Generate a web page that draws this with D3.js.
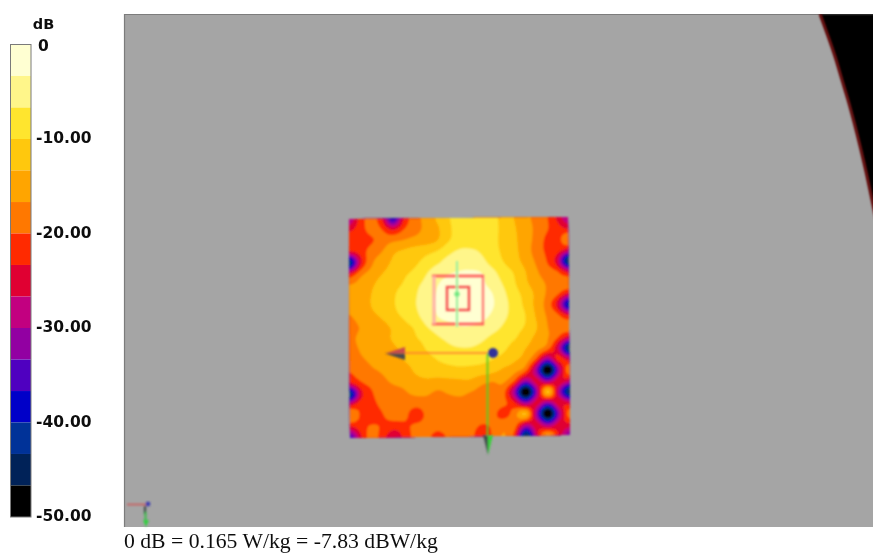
<!DOCTYPE html>
<html><head><meta charset="utf-8">
<style>html,body{margin:0;padding:0;background:#fff;overflow:hidden}svg{display:block}</style>
<script src="https://cdn.jsdelivr.net/npm/d3@7"></script></head><body>
<svg id="c" width="873" height="553"></svg>
<script>
const bandColors=["#ffffd2","#fff68a","#ffe52e","#ffc80e","#ffa500","#ff7800","#ff2a00","#e00030","#c20080","#9200a2","#5000c0","#0000c8","#003098","#002058","#000000"];
const bandEdges=[0,-3.33,-6.67,-10,-13.33,-16.67,-20,-23.33,-26.67,-30,-33.33,-36.67,-40,-43.33,-46.67,-50];
const tickValues=[0,-10,-20,-30,-40,-50];
const legendTitle="dB";
const caption="0 dB = 0.165 W/kg = -7.83 dBW/kg";
const phantomEdgeX=[820,828,835.5,842,848,854.5,860.5,866.5,872,877.5];
const phantomEdgeY=[14,36,58,80,100,124,148,174,200,226];
const sar=[
[-30,-22,-19,-23,-38,-23,-18.5,-15.5,-13,-10.6,-8,-7.5,-7.5,-8.6,-11,-13.2,-15.5,-17.5,-19.5,-24,-30],
[-24,-21.5,-19,-20,-24,-20,-18,-15.8,-14,-11,-8.5,-7.8,-7.6,-8.6,-10.8,-12.8,-15,-17.2,-19.5,-22,-24],
[-22,-22,-20.5,-18.5,-17.3,-16.5,-15.5,-14.8,-13.6,-10.5,-8.5,-7.5,-7.4,-8.8,-10.8,-12.6,-14.8,-17.5,-20.5,-21.5,-16.5],
[-24,-22,-18.5,-16.7,-14,-12.8,-11.8,-11,-10,-7.8,-6.4,-6.4,-7,-8.8,-10.5,-12.5,-14.6,-18,-20.5,-21.5,-25],
[-44,-25,-17.5,-15,-12.8,-11.5,-10.6,-9,-7.4,-5.5,-4.8,-4.6,-5.5,-8,-9.9,-12,-14.2,-17,-20,-26,-46],
[-24,-18,-15.5,-13.4,-12,-10.5,-9.3,-7,-4.8,-3.7,-3.1,-3,-3.3,-5.6,-8.2,-10.2,-13,-16,-18.5,-20,-25],
[-16.7,-15.5,-13.9,-12,-10.8,-9.7,-7.6,-5.8,-3.6,-2.5,-2,-2,-2.8,-4.4,-6.9,-9.5,-12.5,-15,-17,-18.5,-17.5],
[-15.5,-14.5,-13.3,-11.5,-10.3,-8.8,-7,-5,-3,-2,-1.5,-1.5,-2.2,-3.2,-5.8,-8.7,-11,-14,-17,-19.5,-24],
[-15.8,-14.8,-13.3,-11.7,-10.3,-8.6,-6.9,-4.6,-2.9,-1.8,-1.2,-1.3,-2,-3,-5.2,-8.2,-10.6,-14.2,-18,-25,-42],
[-17,-15.6,-14.2,-13,-11,-9.6,-7.7,-5.3,-3.4,-2.5,-2,-2,-2.5,-3.8,-5.8,-8,-9.9,-13.6,-17,-19.5,-24],
[-18,-16.5,-15.4,-14.5,-12.8,-11,-9.6,-7,-5.3,-4.3,-3.6,-3.6,-4.2,-5.3,-7,-8.8,-10.2,-13,-16.5,-18.5,-18],
[-17.8,-15.7,-14.8,-14.2,-13,-11.5,-10.3,-9,-7.2,-6,-5,-5,-6,-7.3,-8.5,-9.6,-11.7,-14,-16.3,-20,-25],
[-18.5,-16.4,-15.6,-15,-14,-12.5,-11.5,-9.9,-8.7,-7.5,-7,-7,-7.6,-8.4,-9.4,-11.4,-13.2,-15.5,-18.5,-27,-46],
[-19,-17.3,-16.3,-15.8,-15,-13.3,-12.3,-11.2,-10,-9.2,-8.8,-8.8,-9.2,-10,-11.2,-12.8,-14.8,-20.5,-31,-22,-26],
[-20,-18.5,-17.2,-16.5,-15.9,-14.8,-13,-12.4,-11.8,-11.3,-11,-11.2,-11.6,-12.4,-14,-15.5,-19,-31,-52,-31,-17],
[-24,-20.5,-19,-17.2,-16.5,-16,-14.5,-13.9,-14.5,-14.3,-14,-14,-15.8,-16.6,-16.2,-20.5,-31,-25,-31,-24,-26],
[-44,-25,-20.5,-18,-17.5,-17,-16.2,-16.2,-17.3,-16.4,-16,-16.8,-17.8,-18,-19,-31,-52,-31,-12,-29,-46],
[-24,-21,-21,-19,-18,-17.8,-18.6,-18,-18.3,-18.2,-17.8,-18,-18.2,-18.2,-19.2,-23,-31,-25,-31,-24,-26],
[-16.5,-20.5,-22,-20.2,-18.5,-18.8,-23,-19,-18.2,-18,-18,-18.2,-18.4,-19,-21.5,-18,-13,-31,-52,-31,-18],
[-24,-21.5,-19.5,-20.5,-22,-21,-19,-18.5,-19,-18.5,-18.3,-18.8,-20.2,-19.5,-17.5,-18.5,-28,-25,-31,-25,-24],
[-37,-24,-18.5,-22,-26,-22,-19,-19.5,-21,-19.5,-18.5,-19,-22.5,-19.5,-16.5,-22,-46,-25,-15,-24,-33]
];

const svg=d3.select("#c");
const defs=svg.append("defs");
defs.append("filter").attr("id","soft").attr("x","-5%").attr("y","-5%").attr("width","110%").attr("height","110%")
  .append("feGaussianBlur").attr("stdDeviation",0.9);
defs.append("filter").attr("id","softText").attr("x","-5%").attr("y","-20%").attr("width","110%").attr("height","140%")
  .append("feGaussianBlur").attr("stdDeviation",0.5);
defs.append("clipPath").attr("id","plotClip").append("rect").attr("x",124).attr("y",14).attr("width",749).attr("height",513);

// plot background
svg.append("rect").attr("x",124).attr("y",14).attr("width",749).attr("height",513).attr("fill","#a5a5a5");
svg.append("path").attr("d","M124.5,527V14.5H873").attr("fill","none").attr("stroke","#7c7c7c").attr("stroke-width",1.2);

// phantom edge at the upper right
const edge=d3.range(phantomEdgeX.length).map(i=>[phantomEdgeX[i],phantomEdgeY[i]]);
const edgeLine=d3.line().curve(d3.curveCatmullRom);
const gPlot=svg.append("g").attr("clip-path","url(#plotClip)");
gPlot.append("path").attr("d",edgeLine(edge)+"L900,226L900,14Z").attr("fill","#000").attr("filter","url(#soft)");
gPlot.append("path").attr("d",edgeLine(edge)).attr("fill","none").attr("stroke","#6a0000").attr("stroke-width",2.6).attr("filter","url(#soft)");

// SAR field: values read on the lattice, smoothed only for drawing
const n=sar.length,k=4,N=(n-1)*k+1;
function cr(a,b,c,d,t){return 0.5*(2*b+(c-a)*t+(2*a-5*b+4*c-d)*t*t+(3*b-a-3*c+d)*t*t*t);}
const at=(r,c)=>sar[Math.max(0,Math.min(n-1,r))][Math.max(0,Math.min(n-1,c))];
const field=new Array(N*N);
for(let j=0;j<N;j++)for(let i=0;i<N;i++){
  const r=Math.min(n-2,Math.floor(j/k)),c=Math.min(n-2,Math.floor(i/k)),v=j/k-r,u=i/k-c;
  const row=[-1,0,1,2].map(dr=>cr(at(r+dr,c-1),at(r+dr,c),at(r+dr,c+1),at(r+dr,c+2),u));
  field[j*N+i]=Math.min(-0.1,cr(row[0],row[1],row[2],row[3],v));
}
const TL=[349,219],TR=[568,217],BR=[570,435],BL=[350,438];
const uScale=d3.scaleLinear().domain([0,N-1]).range([0,1]).clamp(true);
const proj=d3.geoTransform({point(x,y){
  const u=uScale(x-0.5),v=uScale(y-0.5);
  const tx=d3.interpolateNumber(TL[0],TR[0])(u),ty=d3.interpolateNumber(TL[1],TR[1])(u);
  const bx=d3.interpolateNumber(BL[0],BR[0])(u),by=d3.interpolateNumber(BL[1],BR[1])(u);
  this.stream.point(tx+(bx-tx)*v,ty+(by-ty)*v);
}});
const geo=d3.geoPath(proj);
const levels=bandEdges.slice(1,-1).slice().reverse();       // low to high
// value v >= threshold t paints the band just above t
const fillFor=t=>bandColors[bandEdges.indexOf(t)-1];
const contours=d3.contours().size([N,N]).smooth(true).thresholds(levels)(field);
const gMap=svg.append("g").attr("filter","url(#soft)");
gMap.append("path").attr("d",geo({type:"Polygon",coordinates:[[[0.5,0.5],[N-0.5,0.5],[N-0.5,N-0.5],[0.5,N-0.5],[0.5,0.5]]]})).attr("fill",bandColors[14]);
gMap.selectAll("path.band").data(contours).join("path").attr("class","band")
  .attr("d",geo).attr("fill",d=>fillFor(d.value));

// peak-search cubes and measurement marker
const gOver=svg.append("g").attr("filter","url(#soft)");
gOver.append("rect").attr("x",434).attr("y",276).attr("width",49).attr("height",48).attr("fill","none").attr("stroke","#ff6a6a").attr("stroke-width",2.2).attr("opacity",.9);
gOver.append("path").attr("d","M432,276H484M432,324H484").attr("stroke","#ff5a5a").attr("stroke-width",2.6);
gOver.append("path").attr("d","M434,276V324").attr("stroke","#ffb0a8").attr("stroke-width",3);
gOver.append("rect").attr("x",447).attr("y",287).attr("width",22).attr("height",23).attr("fill","none").attr("stroke","#f55050").attr("stroke-width",2.4);
gOver.append("line").attr("x1",457).attr("x2",457).attr("y1",261).attr("y2",327).attr("stroke","#98f0a0").attr("stroke-width",2);
gOver.append("circle").attr("cx",457).attr("cy",294).attr("r",2.6).attr("fill","#70e880");

// coordinate triad at the scan origin
gOver.append("line").attr("x1",405).attr("x2",490).attr("y1",353).attr("y2",353).attr("stroke","#ff7a30").attr("stroke-width",1.6);
gOver.append("path").attr("d","M385,353.5L405,347V353.5Z").attr("fill","#c84850");
gOver.append("path").attr("d","M385,353.5L405,353.5V360Z").attr("fill","#4a4a50");
gOver.append("line").attr("x1",487.5).attr("x2",487.5).attr("y1",353).attr("y2",436).attr("stroke","#5cd024").attr("stroke-width",1.8);
gOver.append("path").attr("d","M488,455L483,435L488,436Z").attr("fill","#40504a");
gOver.append("path").attr("d","M488,455L493,435L488,436Z").attr("fill","#38d038");
gOver.append("circle").attr("cx",493).attr("cy",353).attr("r",5).attr("fill","#30309a");

// small orientation triad
const gTri=svg.append("g").attr("filter","url(#soft)");
gTri.append("line").attr("x1",127).attr("x2",148).attr("y1",504.5).attr("y2",504.5).attr("stroke","#c86060").attr("stroke-width",1.8);
gTri.append("line").attr("x1",145).attr("x2",145).attr("y1",506).attr("y2",514).attr("stroke","#405048").attr("stroke-width",2.2);
gTri.append("line").attr("x1",145.5).attr("x2",145.5).attr("y1",512).attr("y2",524).attr("stroke","#30c040").attr("stroke-width",1.8);
gTri.append("circle").attr("cx",148).attr("cy",504).attr("r",2.4).attr("fill","#4040b0");
gTri.append("path").attr("d","M146,527L143,520H149Z").attr("fill","#30d040");

// colour legend
const yLegend=d3.scaleLinear().domain([0,-50]).range([44.5,517]);
const gLeg=svg.append("g");
const gBar=gLeg.append("g").attr("filter","url(#softText)");
gBar.selectAll("rect").data(bandColors).join("rect")
  .attr("x",11).attr("width",20)
  .attr("y",(d,i)=>yLegend(bandEdges[i]))
  .attr("height",(d,i)=>yLegend(bandEdges[i+1])-yLegend(bandEdges[i]))
  .attr("fill",d=>d);
gBar.append("rect").attr("x",10.5).attr("y",44.5).attr("width",20.5).attr("height",472.5).attr("fill","none").attr("stroke","#7a7a7a");
const axis=d3.axisRight(yLegend).tickValues(tickValues).tickSize(20).tickPadding(5).tickFormat(d=>d===0?"0":d.toFixed(2));
const gAxis=gLeg.append("g").attr("transform","translate(11,0)").call(axis);
gAxis.select(".domain").remove();
gAxis.selectAll(".tick line").attr("stroke","#000").attr("stroke-opacity",.75).attr("filter","url(#softText)");
gAxis.selectAll(".tick text").attr("font-family","'DejaVu Sans'").attr("font-weight","bold").attr("font-size",15.5).attr("fill","#111").attr("filter","url(#softText)").attr("dy","0.24em");
gAxis.selectAll(".tick").filter(d=>d===0).select("line").remove();
gAxis.selectAll(".tick").filter(d=>d===0).select("text").attr("x",27).attr("dy","0.36em");
gLeg.append("text").attr("x",43.5).attr("y",29).attr("text-anchor","middle").attr("font-family","'DejaVu Sans'").attr("font-weight","bold").attr("font-size",14.5).attr("fill","#111").attr("filter","url(#softText)").text(legendTitle);

svg.append("text").attr("x",124).attr("y",548).attr("font-family","'Liberation Serif'").attr("font-size",21.7).attr("fill","#111").attr("filter","url(#softText)").text(caption);
</script></body></html>
